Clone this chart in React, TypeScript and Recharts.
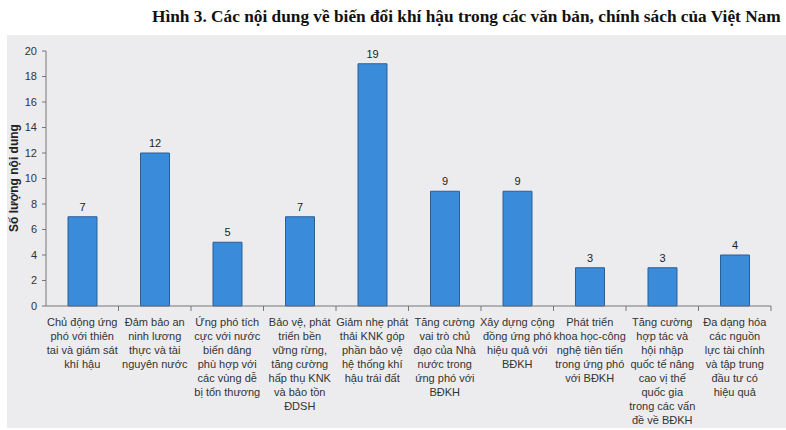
import { BarChart, Bar, XAxis, YAxis, LabelList } from 'recharts';

const categories = [
  ['Chủ động ứng', 'phó với thiên', 'tai và giám sát', 'khí hậu'],
  ['Đảm bảo an', 'ninh lương', 'thực và tài', 'nguyên nước'],
  ['Ứng phó tích', 'cực với nước', 'biển dâng', 'phù hợp với', 'các vùng dễ', 'bị tổn thương'],
  ['Bảo vệ, phát', 'triển bền', 'vững rừng,', 'tăng cường', 'hấp thụ KNK', 'và bảo tồn', 'ĐDSH'],
  ['Giảm nhẹ phát', 'thải KNK góp', 'phần bảo vệ', 'hệ thống khí', 'hậu trái đất'],
  ['Tăng cường', 'vai trò chủ', 'đạo của Nhà', 'nước trong', 'ứng phó với', 'BĐKH'],
  ['Xây dựng cộng', 'đồng ứng phó', 'hiệu quả với', 'BĐKH'],
  ['Phát triển', 'khoa học-công', 'nghệ tiên tiến', 'trong ứng phó', 'với BĐKH'],
  ['Tăng cường', 'hợp tác và', 'hội nhập', 'quốc tế nâng', 'cao vị thế', 'quốc gia', 'trong các vấn', 'đề về BĐKH'],
  ['Đa dạng hóa', 'các nguồn', 'lực tài chính', 'và tập trung', 'đầu tư có', 'hiệu quả'],
];
const counts = [7, 12, 5, 7, 19, 9, 9, 3, 3, 4];
const yTicks = [0, 2, 4, 6, 8, 10, 12, 14, 16, 18, 20];

const title = 'Hình 3. Các nội dung về biến đổi khí hậu trong các văn bản, chính sách của Việt Nam';
const yLabel = 'Số lượng nội dung';

const data = counts.map((v, i) => ({ key: String(i), value: v }));

const W = 786;
const H = 430;
const LEFT = 46;
const RIGHT = 15;
const BAND = (W - LEFT - RIGHT) / categories.length;
const FONT = '"Liberation Sans", Arial, sans-serif';

// multi-line category label + boundary tick mark
const CategoryTick = (props: any) => {
  const { x, y, payload } = props;
  const lines = categories[Number(payload.value)] || [];
  return (
    <g>
      <line x1={x + BAND / 2} y1={y} x2={x + BAND / 2} y2={y + 5} stroke="#777" />
      <text x={x} y={y + 20} textAnchor="middle" fontSize={11} fill="#333" fontFamily={FONT}>
        {lines.map((l: string, i: number) => (
          <tspan key={i} x={x} dy={i === 0 ? 0 : 14}>{l}</tspan>
        ))}
      </text>
    </g>
  );
};

export default function App() {
  return (
    <div style={{ position: 'absolute', left: 0, top: 0, width: W, height: H, background: '#fff' }}>
      <div
        style={{
          position: 'absolute', left: 7, top: 35, width: W - 7, height: 393,
          background: '#ececef',
        }}
      />
      <div
        style={{
          position: 'absolute', left: 152, top: 7,
          fontFamily: '"Liberation Serif", "Times New Roman", serif', fontWeight: 'bold',
          fontSize: 17.3, color: '#111', whiteSpace: 'nowrap',
        }}
      >
        {title}
      </div>
      <div
        style={{
          position: 'absolute', left: 14, top: 178, transform: 'translate(-50%, -50%) rotate(-90deg)',
          fontFamily: FONT, fontWeight: 'bold', fontSize: 12, color: '#222', whiteSpace: 'nowrap',
        }}
      >
        {yLabel}
      </div>
      <div style={{ position: 'absolute', left: 0, top: 0 }}>
        <BarChart width={W} height={H} data={data} margin={{ top: 51, right: RIGHT, left: 0, bottom: 0 }}>
          <XAxis
            dataKey="key"
            height={124}
            tickSize={0}
            tickMargin={0}
            tickLine={false}
            axisLine={{ stroke: '#777' }}
            tick={<CategoryTick />}
            interval={0}
          />
          <YAxis
            width={LEFT}
            domain={[0, 20]}
            ticks={yTicks}
            tickSize={4}
            tickMargin={5}
            axisLine={{ stroke: '#777' }}
            tickLine={{ stroke: '#777' }}
            tick={{ fontSize: 11, fill: '#333', fontFamily: FONT }}
          />
          <Bar dataKey="value" barSize={29} fill="#3a8bd9" stroke="#2c5f94" strokeWidth={1} isAnimationActive={false}>
            <LabelList dataKey="value" position="top" offset={6} fontSize={11} fill="#222" fontFamily={FONT} />
          </Bar>
        </BarChart>
      </div>
    </div>
  );
}
